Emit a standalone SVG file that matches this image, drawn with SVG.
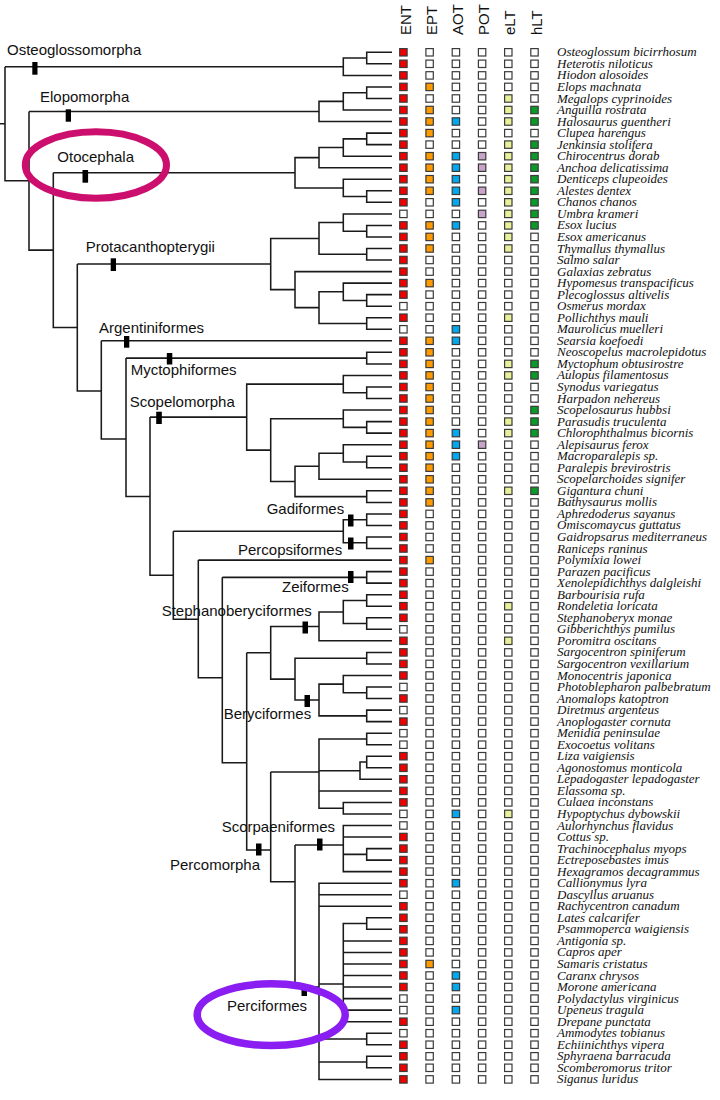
<svg xmlns="http://www.w3.org/2000/svg" xmlns:xlink="http://www.w3.org/1999/xlink" width="720" height="1100" viewBox="0 0 720 1100">
<style>
.cn path{fill:none;stroke:#1a1a1a;stroke-width:1.55}
.tx{font-family:"Liberation Serif","Times New Roman",serif;font-style:italic;font-size:13px;fill:#111}
.lb{font-family:"Liberation Sans",Arial,sans-serif;font-size:15px;fill:#111}
.hd{font-family:"Liberation Sans",Arial,sans-serif;font-size:15px;fill:#111}
.mk{fill:#000}
use{stroke:#3a3a3a;stroke-width:1.2}
.w{fill:#fff}.r{fill:#ee0000}.o{fill:#ff9a00}.b{fill:#00a8f0}.m{fill:#c9a3c9}.y{fill:#e8f09a}.g{fill:#0a9a2a}
.ov{fill:none}
</style>
<defs><rect id="s" x="0" y="-3.7" width="7.4" height="7.4"/></defs>
<rect width="720" height="1100" fill="#fff"/>
<g id="headers" class="hd">
<text transform="translate(410.5 35) rotate(-90)">ENT</text>
<text transform="translate(436.7 35) rotate(-90)">EPT</text>
<text transform="translate(463 35) rotate(-90)">AOT</text>
<text transform="translate(489.2 35) rotate(-90)">POT</text>
<text transform="translate(515.4 35) rotate(-90)">eLT</text>
<text transform="translate(541.6 35) rotate(-90)">hLT</text>
</g>
<g id="connectors" class="cn">
<path d="M0 123.7H5M5 66.7H343.3M5 66.7V180.75H29"/>
<path d="M29 111.4H319M29 111.4V250.1H53.3"/>
<path d="M53.3 172.75H295M53.3 172.75V327.5H77.3"/>
<path d="M77.3 264H270.7M77.3 264V391H101.3"/>
<path d="M101.3 340.8H392M101.3 340.8V439H126"/>
<path d="M126 358.1H366.7M126 358.1V496.4H150"/>
<path d="M150 417.1H246.7M150 417.1V575.2H173.3"/>
<path d="M173.3 531.2H343.3M173.3 531.2V619.2H198.3"/>
<path d="M198.3 560.1H392M198.3 560.1V677.7H222.3"/>
<path d="M222.3 577.35H366.7M222.3 577.35V762.7H246.7"/>
<path d="M246.7 652.75H270.7M246.7 652.75V850H270.7"/>
<path d="M270.7 772H319M270.7 772V881.7H295"/>
<path d="M295 845H343.3M295 845V987H319"/>
<path d="M392 52.3H366.7V63.8H392M366.7 58.05H343.3V75.4H392"/>
<path d="M392 86.9H366.7V98.5H392M366.7 92.7H343.3V110H392M343.3 101.35H319V121.5H392"/>
<path d="M392 133.1H366.7V144.6H392M366.7 138.85H343.3V156.2H392M343.3 147.5H319V167.7H392M392 190.8H366.7V202.3H392M392 179.2H343.3V196.55H366.7M319 157.6H295V187.9H343.3"/>
<path d="M392 225.4H366.7V236.9H392M392 213.9H343.3V231.15H366.7M392 248.5H366.7V260H392M343.3 222.5H319V254.25H366.7M392 294.6H366.7V306.2H392M392 283.1H343.3V300.4H366.7M392 317.7H366.7V329.3H392M343.3 291.75H319V323.5H366.7M392 271.6H295V307.6H319M319 238.4H270.7V289.6H295"/>
<path d="M392 352.3H366.7V363.9H392"/>
<path d="M392 387H366.7V398.5H392M392 375.4H343.3V392.75H366.7M392 421.6H366.7V433.1H392M392 410H343.3V427.35H366.7M392 456.2H366.7V467.7H392M392 444.7H343.3V461.95H366.7M343.3 453.3H319V479.3H392M392 490.8H366.7V502.4H392M319 466.3H295V496.6H366.7M343.3 418.7H270.7V481.45H295M343.3 384.1H246.7V450.1H270.7"/>
<path d="M392 513.9H366.7V525.4H392M392 537H366.7V548.5H392M366.7 519.65H343.3V542.75H366.7"/>
<path d="M392 571.6H366.7V583.1H392"/>
<path d="M392 594.7H366.7V606.2H392M392 617.8H366.7V629.3H392M366.7 600.45H343.3V623.55H366.7M343.3 612H319V640.8H392"/>
<path d="M392 652.4H366.7V663.9H392M392 687H366.7V698.5H392M392 675.5H343.3V692.75H366.7M392 710.1H366.7V721.6H392M343.3 684.1H319V715.85H366.7M366.7 658.15H295V700H319M319 626.4H270.7V679.1H295"/>
<path d="M392 733.2H366.7V744.7H392M392 756.2H366.7V767.8H392M366.7 762H360V779.3H392M392 802.4H343.3V813.9H392M366.7 738.95H319V808.15H343.3M319 770.65H360M319 790.9H392"/>
<path d="M392 848.6H366.7V860.1H392M392 825.5H343.3V871.6H392M343.3 837H392M343.3 854.35H366.7"/>
<path d="M392 917.8H366.7V929.3H392M366.7 923.55H343.3V1021.7H392M343.3 940.9H392M343.3 952.4H392M343.3 964H392M343.3 975.5H392M343.3 987H392M343.3 998.6H392M343.3 1010.1H392M392 1033.2H366.7V1044.7H392M392 1056.3H366.7V1067.8H392M392 883.2H319V1079.4H392M319 894.7H392M319 906.3H392M319 984H343.3M319 1038.95H366.7M319 1062.05H366.7"/>
</g>
<g id="clades">
<g id="c-osteo"><rect class="mk" x="32.3" y="62" width="5.2" height="12.7"/><text class="lb" x="7" y="55">Osteoglossomorpha</text></g>
<g id="c-elopo"><rect class="mk" x="65.7" y="109.3" width="5.3" height="12.4"/><text class="lb" x="40" y="101.7">Elopomorpha</text></g>
<g id="c-oto"><rect class="mk" x="82.5" y="170" width="5.6" height="12.7"/><text class="lb" x="57.3" y="162.3">Otocephala</text></g>
<g id="c-prot"><rect class="mk" x="110.7" y="258.3" width="5.3" height="12.7"/><text class="lb" x="85.7" y="251.7">Protacanthopterygii</text></g>
<g id="c-arg"><rect class="mk" x="124" y="336" width="5.3" height="11.7"/><text class="lb" x="99" y="333.3">Argentiniformes</text></g>
<g id="c-myct"><rect class="mk" x="166.8" y="353" width="5.5" height="11.5"/><text class="lb" x="130.7" y="375">Myctophiformes</text></g>
<g id="c-scop"><rect class="mk" x="156.2" y="411.7" width="5.6" height="12.3"/><text class="lb" x="129.7" y="406.7">Scopelomorpha</text></g>
<g id="c-gadi"><rect class="mk" x="348" y="514.5" width="5.5" height="12"/><text class="lb" x="266.7" y="514.3">Gadiformes</text></g>
<g id="c-perc"><rect class="mk" x="348" y="537.5" width="5.5" height="12"/><text class="lb" x="238" y="555">Percopsiformes</text></g>
<g id="c-zei"><rect class="mk" x="348" y="571" width="5.5" height="12"/><text class="lb" x="282" y="592.3">Zeiformes</text></g>
<g id="c-steph"><rect class="mk" x="302.5" y="621.5" width="5.5" height="12"/><text class="lb" x="161.7" y="616">Stephanoberyciformes</text></g>
<g id="c-bery"><rect class="mk" x="304.5" y="695" width="5.5" height="12"/><text class="lb" x="223.7" y="719.3">Beryciformes</text></g>
<g id="c-scorp"><rect class="mk" x="317" y="838.5" width="5.5" height="12"/><text class="lb" x="221.7" y="831.7">Scorpaeniformes</text></g>
<g id="c-percom"><rect class="mk" x="256" y="843.5" width="5.5" height="12"/><text class="lb" x="170" y="870">Percomorpha</text></g>
<g id="c-percif"><rect class="mk" x="301.5" y="984" width="5.5" height="12"/><text class="lb" x="227" y="1010.7">Perciformes</text></g>
</g>
<g id="taxa" class="tx">
<g id="t1" transform="translate(0 52.3)"><text x="557" y="4">Osteoglossum bicirrhosum</text><use href="#s" x="399.7" class="r"/><use href="#s" x="425.9" class="w"/><use href="#s" x="452.2" class="w"/><use href="#s" x="478.4" class="w"/><use href="#s" x="504.6" class="w"/><use href="#s" x="530.8" class="w"/></g>
<g id="t2" transform="translate(0 63.8)"><text x="557" y="4">Heterotis niloticus</text><use href="#s" x="399.7" class="r"/><use href="#s" x="425.9" class="w"/><use href="#s" x="452.2" class="w"/><use href="#s" x="478.4" class="w"/><use href="#s" x="504.6" class="w"/><use href="#s" x="530.8" class="w"/></g>
<g id="t3" transform="translate(0 75.4)"><text x="557" y="4">Hiodon alosoides</text><use href="#s" x="399.7" class="r"/><use href="#s" x="425.9" class="w"/><use href="#s" x="452.2" class="w"/><use href="#s" x="478.4" class="w"/><use href="#s" x="504.6" class="w"/><use href="#s" x="530.8" class="w"/></g>
<g id="t4" transform="translate(0 86.9)"><text x="557" y="4">Elops machnata</text><use href="#s" x="399.7" class="r"/><use href="#s" x="425.9" class="o"/><use href="#s" x="452.2" class="w"/><use href="#s" x="478.4" class="w"/><use href="#s" x="504.6" class="w"/><use href="#s" x="530.8" class="w"/></g>
<g id="t5" transform="translate(0 98.5)"><text x="557" y="4">Megalops cyprinoides</text><use href="#s" x="399.7" class="r"/><use href="#s" x="425.9" class="w"/><use href="#s" x="452.2" class="w"/><use href="#s" x="478.4" class="w"/><use href="#s" x="504.6" class="y"/><use href="#s" x="530.8" class="w"/></g>
<g id="t6" transform="translate(0 110)"><text x="557" y="4">Anguilla rostrata</text><use href="#s" x="399.7" class="r"/><use href="#s" x="425.9" class="o"/><use href="#s" x="452.2" class="w"/><use href="#s" x="478.4" class="w"/><use href="#s" x="504.6" class="y"/><use href="#s" x="530.8" class="g"/></g>
<g id="t7" transform="translate(0 121.5)"><text x="557" y="4">Halosaurus guentheri</text><use href="#s" x="399.7" class="r"/><use href="#s" x="425.9" class="o"/><use href="#s" x="452.2" class="b"/><use href="#s" x="478.4" class="w"/><use href="#s" x="504.6" class="y"/><use href="#s" x="530.8" class="g"/></g>
<g id="t8" transform="translate(0 133.1)"><text x="557" y="4">Clupea harengus</text><use href="#s" x="399.7" class="r"/><use href="#s" x="425.9" class="o"/><use href="#s" x="452.2" class="w"/><use href="#s" x="478.4" class="w"/><use href="#s" x="504.6" class="w"/><use href="#s" x="530.8" class="w"/></g>
<g id="t9" transform="translate(0 144.6)"><text x="557" y="4">Jenkinsia stolifera</text><use href="#s" x="399.7" class="r"/><use href="#s" x="425.9" class="w"/><use href="#s" x="452.2" class="w"/><use href="#s" x="478.4" class="w"/><use href="#s" x="504.6" class="y"/><use href="#s" x="530.8" class="g"/></g>
<g id="t10" transform="translate(0 156.2)"><text x="557" y="4">Chirocentrus dorab</text><use href="#s" x="399.7" class="r"/><use href="#s" x="425.9" class="o"/><use href="#s" x="452.2" class="b"/><use href="#s" x="478.4" class="m"/><use href="#s" x="504.6" class="y"/><use href="#s" x="530.8" class="g"/></g>
<g id="t11" transform="translate(0 167.7)"><text x="557" y="4">Anchoa delicatissima</text><use href="#s" x="399.7" class="r"/><use href="#s" x="425.9" class="o"/><use href="#s" x="452.2" class="b"/><use href="#s" x="478.4" class="m"/><use href="#s" x="504.6" class="y"/><use href="#s" x="530.8" class="g"/></g>
<g id="t12" transform="translate(0 179.2)"><text x="557" y="4">Denticeps clupeoides</text><use href="#s" x="399.7" class="r"/><use href="#s" x="425.9" class="o"/><use href="#s" x="452.2" class="b"/><use href="#s" x="478.4" class="w"/><use href="#s" x="504.6" class="y"/><use href="#s" x="530.8" class="g"/></g>
<g id="t13" transform="translate(0 190.8)"><text x="557" y="4">Alestes dentex</text><use href="#s" x="399.7" class="r"/><use href="#s" x="425.9" class="o"/><use href="#s" x="452.2" class="b"/><use href="#s" x="478.4" class="m"/><use href="#s" x="504.6" class="y"/><use href="#s" x="530.8" class="g"/></g>
<g id="t14" transform="translate(0 202.3)"><text x="557" y="4">Chanos chanos</text><use href="#s" x="399.7" class="r"/><use href="#s" x="425.9" class="w"/><use href="#s" x="452.2" class="b"/><use href="#s" x="478.4" class="w"/><use href="#s" x="504.6" class="y"/><use href="#s" x="530.8" class="g"/></g>
<g id="t15" transform="translate(0 213.9)"><text x="557" y="4">Umbra krameri</text><use href="#s" x="399.7" class="w"/><use href="#s" x="425.9" class="w"/><use href="#s" x="452.2" class="w"/><use href="#s" x="478.4" class="m"/><use href="#s" x="504.6" class="y"/><use href="#s" x="530.8" class="g"/></g>
<g id="t16" transform="translate(0 225.4)"><text x="557" y="4">Esox lucius</text><use href="#s" x="399.7" class="r"/><use href="#s" x="425.9" class="o"/><use href="#s" x="452.2" class="b"/><use href="#s" x="478.4" class="w"/><use href="#s" x="504.6" class="y"/><use href="#s" x="530.8" class="g"/></g>
<g id="t17" transform="translate(0 236.9)"><text x="557" y="4">Esox americanus</text><use href="#s" x="399.7" class="r"/><use href="#s" x="425.9" class="o"/><use href="#s" x="452.2" class="w"/><use href="#s" x="478.4" class="w"/><use href="#s" x="504.6" class="y"/><use href="#s" x="530.8" class="w"/></g>
<g id="t18" transform="translate(0 248.5)"><text x="557" y="4">Thymallus thymallus</text><use href="#s" x="399.7" class="r"/><use href="#s" x="425.9" class="o"/><use href="#s" x="452.2" class="w"/><use href="#s" x="478.4" class="w"/><use href="#s" x="504.6" class="y"/><use href="#s" x="530.8" class="w"/></g>
<g id="t19" transform="translate(0 260)"><text x="557" y="4">Salmo salar</text><use href="#s" x="399.7" class="r"/><use href="#s" x="425.9" class="w"/><use href="#s" x="452.2" class="w"/><use href="#s" x="478.4" class="w"/><use href="#s" x="504.6" class="w"/><use href="#s" x="530.8" class="w"/></g>
<g id="t20" transform="translate(0 271.6)"><text x="557" y="4">Galaxias zebratus</text><use href="#s" x="399.7" class="r"/><use href="#s" x="425.9" class="w"/><use href="#s" x="452.2" class="w"/><use href="#s" x="478.4" class="w"/><use href="#s" x="504.6" class="w"/><use href="#s" x="530.8" class="w"/></g>
<g id="t21" transform="translate(0 283.1)"><text x="557" y="4">Hypomesus transpacificus</text><use href="#s" x="399.7" class="r"/><use href="#s" x="425.9" class="o"/><use href="#s" x="452.2" class="w"/><use href="#s" x="478.4" class="w"/><use href="#s" x="504.6" class="w"/><use href="#s" x="530.8" class="w"/></g>
<g id="t22" transform="translate(0 294.6)"><text x="557" y="4">Plecoglossus altivelis</text><use href="#s" x="399.7" class="r"/><use href="#s" x="425.9" class="w"/><use href="#s" x="452.2" class="w"/><use href="#s" x="478.4" class="w"/><use href="#s" x="504.6" class="w"/><use href="#s" x="530.8" class="w"/></g>
<g id="t23" transform="translate(0 306.2)"><text x="557" y="4">Osmerus mordax</text><use href="#s" x="399.7" class="w"/><use href="#s" x="425.9" class="w"/><use href="#s" x="452.2" class="w"/><use href="#s" x="478.4" class="w"/><use href="#s" x="504.6" class="w"/><use href="#s" x="530.8" class="w"/></g>
<g id="t24" transform="translate(0 317.7)"><text x="557" y="4">Pollichthys mauli</text><use href="#s" x="399.7" class="r"/><use href="#s" x="425.9" class="w"/><use href="#s" x="452.2" class="w"/><use href="#s" x="478.4" class="w"/><use href="#s" x="504.6" class="y"/><use href="#s" x="530.8" class="w"/></g>
<g id="t25" transform="translate(0 329.3)"><text x="557" y="4">Maurolicus muelleri</text><use href="#s" x="399.7" class="w"/><use href="#s" x="425.9" class="w"/><use href="#s" x="452.2" class="b"/><use href="#s" x="478.4" class="w"/><use href="#s" x="504.6" class="w"/><use href="#s" x="530.8" class="w"/></g>
<g id="t26" transform="translate(0 340.8)"><text x="557" y="4">Searsia koefoedi</text><use href="#s" x="399.7" class="r"/><use href="#s" x="425.9" class="o"/><use href="#s" x="452.2" class="b"/><use href="#s" x="478.4" class="w"/><use href="#s" x="504.6" class="w"/><use href="#s" x="530.8" class="w"/></g>
<g id="t27" transform="translate(0 352.3)"><text x="557" y="4">Neoscopelus macrolepidotus</text><use href="#s" x="399.7" class="r"/><use href="#s" x="425.9" class="o"/><use href="#s" x="452.2" class="w"/><use href="#s" x="478.4" class="w"/><use href="#s" x="504.6" class="w"/><use href="#s" x="530.8" class="w"/></g>
<g id="t28" transform="translate(0 363.9)"><text x="557" y="4">Myctophum obtusirostre</text><use href="#s" x="399.7" class="r"/><use href="#s" x="425.9" class="o"/><use href="#s" x="452.2" class="w"/><use href="#s" x="478.4" class="w"/><use href="#s" x="504.6" class="y"/><use href="#s" x="530.8" class="g"/></g>
<g id="t29" transform="translate(0 375.4)"><text x="557" y="4">Aulopus filamentosus</text><use href="#s" x="399.7" class="r"/><use href="#s" x="425.9" class="o"/><use href="#s" x="452.2" class="w"/><use href="#s" x="478.4" class="w"/><use href="#s" x="504.6" class="y"/><use href="#s" x="530.8" class="g"/></g>
<g id="t30" transform="translate(0 387)"><text x="557" y="4">Synodus variegatus</text><use href="#s" x="399.7" class="r"/><use href="#s" x="425.9" class="o"/><use href="#s" x="452.2" class="w"/><use href="#s" x="478.4" class="w"/><use href="#s" x="504.6" class="w"/><use href="#s" x="530.8" class="w"/></g>
<g id="t31" transform="translate(0 398.5)"><text x="557" y="4">Harpadon nehereus</text><use href="#s" x="399.7" class="r"/><use href="#s" x="425.9" class="o"/><use href="#s" x="452.2" class="w"/><use href="#s" x="478.4" class="w"/><use href="#s" x="504.6" class="w"/><use href="#s" x="530.8" class="w"/></g>
<g id="t32" transform="translate(0 410)"><text x="557" y="4">Scopelosaurus hubbsi</text><use href="#s" x="399.7" class="r"/><use href="#s" x="425.9" class="o"/><use href="#s" x="452.2" class="w"/><use href="#s" x="478.4" class="w"/><use href="#s" x="504.6" class="w"/><use href="#s" x="530.8" class="g"/></g>
<g id="t33" transform="translate(0 421.6)"><text x="557" y="4">Parasudis truculenta</text><use href="#s" x="399.7" class="r"/><use href="#s" x="425.9" class="o"/><use href="#s" x="452.2" class="w"/><use href="#s" x="478.4" class="w"/><use href="#s" x="504.6" class="y"/><use href="#s" x="530.8" class="g"/></g>
<g id="t34" transform="translate(0 433.1)"><text x="557" y="4">Chlorophthalmus bicornis</text><use href="#s" x="399.7" class="r"/><use href="#s" x="425.9" class="o"/><use href="#s" x="452.2" class="b"/><use href="#s" x="478.4" class="w"/><use href="#s" x="504.6" class="y"/><use href="#s" x="530.8" class="g"/></g>
<g id="t35" transform="translate(0 444.7)"><text x="557" y="4">Alepisaurus ferox</text><use href="#s" x="399.7" class="r"/><use href="#s" x="425.9" class="o"/><use href="#s" x="452.2" class="b"/><use href="#s" x="478.4" class="m"/><use href="#s" x="504.6" class="w"/><use href="#s" x="530.8" class="w"/></g>
<g id="t36" transform="translate(0 456.2)"><text x="557" y="4">Macroparalepis sp.</text><use href="#s" x="399.7" class="r"/><use href="#s" x="425.9" class="o"/><use href="#s" x="452.2" class="b"/><use href="#s" x="478.4" class="w"/><use href="#s" x="504.6" class="w"/><use href="#s" x="530.8" class="w"/></g>
<g id="t37" transform="translate(0 467.7)"><text x="557" y="4">Paralepis brevirostris</text><use href="#s" x="399.7" class="r"/><use href="#s" x="425.9" class="o"/><use href="#s" x="452.2" class="w"/><use href="#s" x="478.4" class="w"/><use href="#s" x="504.6" class="w"/><use href="#s" x="530.8" class="w"/></g>
<g id="t38" transform="translate(0 479.3)"><text x="557" y="4">Scopelarchoides signifer</text><use href="#s" x="399.7" class="r"/><use href="#s" x="425.9" class="o"/><use href="#s" x="452.2" class="w"/><use href="#s" x="478.4" class="w"/><use href="#s" x="504.6" class="w"/><use href="#s" x="530.8" class="w"/></g>
<g id="t39" transform="translate(0 490.8)"><text x="557" y="4">Gigantura chuni</text><use href="#s" x="399.7" class="r"/><use href="#s" x="425.9" class="o"/><use href="#s" x="452.2" class="w"/><use href="#s" x="478.4" class="w"/><use href="#s" x="504.6" class="y"/><use href="#s" x="530.8" class="g"/></g>
<g id="t40" transform="translate(0 502.4)"><text x="557" y="4">Bathysaurus mollis</text><use href="#s" x="399.7" class="r"/><use href="#s" x="425.9" class="o"/><use href="#s" x="452.2" class="w"/><use href="#s" x="478.4" class="w"/><use href="#s" x="504.6" class="w"/><use href="#s" x="530.8" class="w"/></g>
<g id="t41" transform="translate(0 513.9)"><text x="557" y="4">Aphredoderus sayanus</text><use href="#s" x="399.7" class="r"/><use href="#s" x="425.9" class="w"/><use href="#s" x="452.2" class="w"/><use href="#s" x="478.4" class="w"/><use href="#s" x="504.6" class="w"/><use href="#s" x="530.8" class="w"/></g>
<g id="t42" transform="translate(0 525.4)"><text x="557" y="4">Omiscomaycus guttatus</text><use href="#s" x="399.7" class="r"/><use href="#s" x="425.9" class="w"/><use href="#s" x="452.2" class="w"/><use href="#s" x="478.4" class="w"/><use href="#s" x="504.6" class="w"/><use href="#s" x="530.8" class="w"/></g>
<g id="t43" transform="translate(0 537)"><text x="557" y="4">Gaidropsarus mediterraneus</text><use href="#s" x="399.7" class="r"/><use href="#s" x="425.9" class="w"/><use href="#s" x="452.2" class="w"/><use href="#s" x="478.4" class="w"/><use href="#s" x="504.6" class="w"/><use href="#s" x="530.8" class="w"/></g>
<g id="t44" transform="translate(0 548.5)"><text x="557" y="4">Raniceps raninus</text><use href="#s" x="399.7" class="r"/><use href="#s" x="425.9" class="w"/><use href="#s" x="452.2" class="w"/><use href="#s" x="478.4" class="w"/><use href="#s" x="504.6" class="w"/><use href="#s" x="530.8" class="w"/></g>
<g id="t45" transform="translate(0 560.1)"><text x="557" y="4">Polymixia lowei</text><use href="#s" x="399.7" class="r"/><use href="#s" x="425.9" class="o"/><use href="#s" x="452.2" class="w"/><use href="#s" x="478.4" class="w"/><use href="#s" x="504.6" class="w"/><use href="#s" x="530.8" class="w"/></g>
<g id="t46" transform="translate(0 571.6)"><text x="557" y="4">Parazen pacificus</text><use href="#s" x="399.7" class="r"/><use href="#s" x="425.9" class="w"/><use href="#s" x="452.2" class="w"/><use href="#s" x="478.4" class="w"/><use href="#s" x="504.6" class="w"/><use href="#s" x="530.8" class="w"/></g>
<g id="t47" transform="translate(0 583.1)"><text x="557" y="4">Xenolepidichthys dalgleishi</text><use href="#s" x="399.7" class="r"/><use href="#s" x="425.9" class="w"/><use href="#s" x="452.2" class="w"/><use href="#s" x="478.4" class="w"/><use href="#s" x="504.6" class="w"/><use href="#s" x="530.8" class="w"/></g>
<g id="t48" transform="translate(0 594.7)"><text x="557" y="4">Barbourisia rufa</text><use href="#s" x="399.7" class="r"/><use href="#s" x="425.9" class="w"/><use href="#s" x="452.2" class="w"/><use href="#s" x="478.4" class="w"/><use href="#s" x="504.6" class="w"/><use href="#s" x="530.8" class="w"/></g>
<g id="t49" transform="translate(0 606.2)"><text x="557" y="4">Rondeletia loricata</text><use href="#s" x="399.7" class="r"/><use href="#s" x="425.9" class="w"/><use href="#s" x="452.2" class="w"/><use href="#s" x="478.4" class="w"/><use href="#s" x="504.6" class="y"/><use href="#s" x="530.8" class="w"/></g>
<g id="t50" transform="translate(0 617.8)"><text x="557" y="4">Stephanoberyx monae</text><use href="#s" x="399.7" class="r"/><use href="#s" x="425.9" class="w"/><use href="#s" x="452.2" class="w"/><use href="#s" x="478.4" class="w"/><use href="#s" x="504.6" class="w"/><use href="#s" x="530.8" class="w"/></g>
<g id="t51" transform="translate(0 629.3)"><text x="557" y="4">Gibberichthys pumilus</text><use href="#s" x="399.7" class="w"/><use href="#s" x="425.9" class="w"/><use href="#s" x="452.2" class="w"/><use href="#s" x="478.4" class="w"/><use href="#s" x="504.6" class="w"/><use href="#s" x="530.8" class="w"/></g>
<g id="t52" transform="translate(0 640.8)"><text x="557" y="4">Poromitra oscitans</text><use href="#s" x="399.7" class="r"/><use href="#s" x="425.9" class="w"/><use href="#s" x="452.2" class="w"/><use href="#s" x="478.4" class="w"/><use href="#s" x="504.6" class="y"/><use href="#s" x="530.8" class="w"/></g>
<g id="t53" transform="translate(0 652.4)"><text x="557" y="4">Sargocentron spiniferum</text><use href="#s" x="399.7" class="r"/><use href="#s" x="425.9" class="w"/><use href="#s" x="452.2" class="w"/><use href="#s" x="478.4" class="w"/><use href="#s" x="504.6" class="w"/><use href="#s" x="530.8" class="w"/></g>
<g id="t54" transform="translate(0 663.9)"><text x="557" y="4">Sargocentron vexillarium</text><use href="#s" x="399.7" class="r"/><use href="#s" x="425.9" class="w"/><use href="#s" x="452.2" class="w"/><use href="#s" x="478.4" class="w"/><use href="#s" x="504.6" class="w"/><use href="#s" x="530.8" class="w"/></g>
<g id="t55" transform="translate(0 675.5)"><text x="557" y="4">Monocentris japonica</text><use href="#s" x="399.7" class="r"/><use href="#s" x="425.9" class="w"/><use href="#s" x="452.2" class="w"/><use href="#s" x="478.4" class="w"/><use href="#s" x="504.6" class="w"/><use href="#s" x="530.8" class="w"/></g>
<g id="t56" transform="translate(0 687)"><text x="557" y="4">Photoblepharon palbebratum</text><use href="#s" x="399.7" class="w"/><use href="#s" x="425.9" class="w"/><use href="#s" x="452.2" class="w"/><use href="#s" x="478.4" class="w"/><use href="#s" x="504.6" class="w"/><use href="#s" x="530.8" class="w"/></g>
<g id="t57" transform="translate(0 698.5)"><text x="557" y="4">Anomalops katoptron</text><use href="#s" x="399.7" class="r"/><use href="#s" x="425.9" class="w"/><use href="#s" x="452.2" class="w"/><use href="#s" x="478.4" class="w"/><use href="#s" x="504.6" class="w"/><use href="#s" x="530.8" class="w"/></g>
<g id="t58" transform="translate(0 710.1)"><text x="557" y="4">Diretmus argenteus</text><use href="#s" x="399.7" class="w"/><use href="#s" x="425.9" class="w"/><use href="#s" x="452.2" class="w"/><use href="#s" x="478.4" class="w"/><use href="#s" x="504.6" class="w"/><use href="#s" x="530.8" class="w"/></g>
<g id="t59" transform="translate(0 721.6)"><text x="557" y="4">Anoplogaster cornuta</text><use href="#s" x="399.7" class="r"/><use href="#s" x="425.9" class="w"/><use href="#s" x="452.2" class="w"/><use href="#s" x="478.4" class="w"/><use href="#s" x="504.6" class="w"/><use href="#s" x="530.8" class="w"/></g>
<g id="t60" transform="translate(0 733.2)"><text x="557" y="4">Menidia peninsulae</text><use href="#s" x="399.7" class="w"/><use href="#s" x="425.9" class="w"/><use href="#s" x="452.2" class="w"/><use href="#s" x="478.4" class="w"/><use href="#s" x="504.6" class="w"/><use href="#s" x="530.8" class="w"/></g>
<g id="t61" transform="translate(0 744.7)"><text x="557" y="4">Exocoetus volitans</text><use href="#s" x="399.7" class="w"/><use href="#s" x="425.9" class="w"/><use href="#s" x="452.2" class="w"/><use href="#s" x="478.4" class="w"/><use href="#s" x="504.6" class="w"/><use href="#s" x="530.8" class="w"/></g>
<g id="t62" transform="translate(0 756.2)"><text x="557" y="4">Liza vaigiensis</text><use href="#s" x="399.7" class="r"/><use href="#s" x="425.9" class="w"/><use href="#s" x="452.2" class="w"/><use href="#s" x="478.4" class="w"/><use href="#s" x="504.6" class="w"/><use href="#s" x="530.8" class="w"/></g>
<g id="t63" transform="translate(0 767.8)"><text x="557" y="4">Agonostomus monticola</text><use href="#s" x="399.7" class="r"/><use href="#s" x="425.9" class="w"/><use href="#s" x="452.2" class="w"/><use href="#s" x="478.4" class="w"/><use href="#s" x="504.6" class="w"/><use href="#s" x="530.8" class="w"/></g>
<g id="t64" transform="translate(0 779.3)"><text x="557" y="4">Lepadogaster lepadogaster</text><use href="#s" x="399.7" class="r"/><use href="#s" x="425.9" class="w"/><use href="#s" x="452.2" class="w"/><use href="#s" x="478.4" class="w"/><use href="#s" x="504.6" class="w"/><use href="#s" x="530.8" class="w"/></g>
<g id="t65" transform="translate(0 790.9)"><text x="557" y="4">Elassoma sp.</text><use href="#s" x="399.7" class="r"/><use href="#s" x="425.9" class="w"/><use href="#s" x="452.2" class="w"/><use href="#s" x="478.4" class="w"/><use href="#s" x="504.6" class="w"/><use href="#s" x="530.8" class="w"/></g>
<g id="t66" transform="translate(0 802.4)"><text x="557" y="4">Culaea inconstans</text><use href="#s" x="399.7" class="r"/><use href="#s" x="425.9" class="w"/><use href="#s" x="452.2" class="w"/><use href="#s" x="478.4" class="w"/><use href="#s" x="504.6" class="w"/><use href="#s" x="530.8" class="w"/></g>
<g id="t67" transform="translate(0 813.9)"><text x="557" y="4">Hypoptychus dybowskii</text><use href="#s" x="399.7" class="w"/><use href="#s" x="425.9" class="w"/><use href="#s" x="452.2" class="b"/><use href="#s" x="478.4" class="w"/><use href="#s" x="504.6" class="y"/><use href="#s" x="530.8" class="w"/></g>
<g id="t68" transform="translate(0 825.5)"><text x="557" y="4">Aulorhynchus flavidus</text><use href="#s" x="399.7" class="w"/><use href="#s" x="425.9" class="w"/><use href="#s" x="452.2" class="w"/><use href="#s" x="478.4" class="w"/><use href="#s" x="504.6" class="w"/><use href="#s" x="530.8" class="w"/></g>
<g id="t69" transform="translate(0 837)"><text x="557" y="4">Cottus sp.</text><use href="#s" x="399.7" class="r"/><use href="#s" x="425.9" class="w"/><use href="#s" x="452.2" class="w"/><use href="#s" x="478.4" class="w"/><use href="#s" x="504.6" class="w"/><use href="#s" x="530.8" class="w"/></g>
<g id="t70" transform="translate(0 848.6)"><text x="557" y="4">Trachinocephalus myops</text><use href="#s" x="399.7" class="r"/><use href="#s" x="425.9" class="w"/><use href="#s" x="452.2" class="w"/><use href="#s" x="478.4" class="w"/><use href="#s" x="504.6" class="w"/><use href="#s" x="530.8" class="w"/></g>
<g id="t71" transform="translate(0 860.1)"><text x="557" y="4">Ectreposebastes imus</text><use href="#s" x="399.7" class="r"/><use href="#s" x="425.9" class="w"/><use href="#s" x="452.2" class="w"/><use href="#s" x="478.4" class="w"/><use href="#s" x="504.6" class="w"/><use href="#s" x="530.8" class="w"/></g>
<g id="t72" transform="translate(0 871.6)"><text x="557" y="4">Hexagramos decagrammus</text><use href="#s" x="399.7" class="r"/><use href="#s" x="425.9" class="w"/><use href="#s" x="452.2" class="w"/><use href="#s" x="478.4" class="w"/><use href="#s" x="504.6" class="w"/><use href="#s" x="530.8" class="w"/></g>
<g id="t73" transform="translate(0 883.2)"><text x="557" y="4">Callionymus lyra</text><use href="#s" x="399.7" class="r"/><use href="#s" x="425.9" class="w"/><use href="#s" x="452.2" class="b"/><use href="#s" x="478.4" class="w"/><use href="#s" x="504.6" class="w"/><use href="#s" x="530.8" class="w"/></g>
<g id="t74" transform="translate(0 894.7)"><text x="557" y="4">Dascyllus aruanus</text><use href="#s" x="399.7" class="w"/><use href="#s" x="425.9" class="w"/><use href="#s" x="452.2" class="w"/><use href="#s" x="478.4" class="w"/><use href="#s" x="504.6" class="w"/><use href="#s" x="530.8" class="w"/></g>
<g id="t75" transform="translate(0 906.3)"><text x="557" y="4">Rachycentron canadum</text><use href="#s" x="399.7" class="r"/><use href="#s" x="425.9" class="w"/><use href="#s" x="452.2" class="w"/><use href="#s" x="478.4" class="w"/><use href="#s" x="504.6" class="w"/><use href="#s" x="530.8" class="w"/></g>
<g id="t76" transform="translate(0 917.8)"><text x="557" y="4">Lates calcarifer</text><use href="#s" x="399.7" class="r"/><use href="#s" x="425.9" class="w"/><use href="#s" x="452.2" class="w"/><use href="#s" x="478.4" class="w"/><use href="#s" x="504.6" class="w"/><use href="#s" x="530.8" class="w"/></g>
<g id="t77" transform="translate(0 929.3)"><text x="557" y="4">Psammoperca waigiensis</text><use href="#s" x="399.7" class="r"/><use href="#s" x="425.9" class="w"/><use href="#s" x="452.2" class="w"/><use href="#s" x="478.4" class="w"/><use href="#s" x="504.6" class="w"/><use href="#s" x="530.8" class="w"/></g>
<g id="t78" transform="translate(0 940.9)"><text x="557" y="4">Antigonia sp.</text><use href="#s" x="399.7" class="r"/><use href="#s" x="425.9" class="w"/><use href="#s" x="452.2" class="w"/><use href="#s" x="478.4" class="w"/><use href="#s" x="504.6" class="w"/><use href="#s" x="530.8" class="w"/></g>
<g id="t79" transform="translate(0 952.4)"><text x="557" y="4">Capros aper</text><use href="#s" x="399.7" class="r"/><use href="#s" x="425.9" class="w"/><use href="#s" x="452.2" class="w"/><use href="#s" x="478.4" class="w"/><use href="#s" x="504.6" class="w"/><use href="#s" x="530.8" class="w"/></g>
<g id="t80" transform="translate(0 964)"><text x="557" y="4">Samaris cristatus</text><use href="#s" x="399.7" class="r"/><use href="#s" x="425.9" class="o"/><use href="#s" x="452.2" class="w"/><use href="#s" x="478.4" class="w"/><use href="#s" x="504.6" class="w"/><use href="#s" x="530.8" class="w"/></g>
<g id="t81" transform="translate(0 975.5)"><text x="557" y="4">Caranx chrysos</text><use href="#s" x="399.7" class="r"/><use href="#s" x="425.9" class="w"/><use href="#s" x="452.2" class="b"/><use href="#s" x="478.4" class="w"/><use href="#s" x="504.6" class="w"/><use href="#s" x="530.8" class="w"/></g>
<g id="t82" transform="translate(0 987)"><text x="557" y="4">Morone americana</text><use href="#s" x="399.7" class="r"/><use href="#s" x="425.9" class="w"/><use href="#s" x="452.2" class="b"/><use href="#s" x="478.4" class="w"/><use href="#s" x="504.6" class="w"/><use href="#s" x="530.8" class="w"/></g>
<g id="t83" transform="translate(0 998.6)"><text x="557" y="4">Polydactylus virginicus</text><use href="#s" x="399.7" class="w"/><use href="#s" x="425.9" class="w"/><use href="#s" x="452.2" class="w"/><use href="#s" x="478.4" class="w"/><use href="#s" x="504.6" class="w"/><use href="#s" x="530.8" class="w"/></g>
<g id="t84" transform="translate(0 1010.1)"><text x="557" y="4">Upeneus tragula</text><use href="#s" x="399.7" class="w"/><use href="#s" x="425.9" class="w"/><use href="#s" x="452.2" class="b"/><use href="#s" x="478.4" class="w"/><use href="#s" x="504.6" class="w"/><use href="#s" x="530.8" class="w"/></g>
<g id="t85" transform="translate(0 1021.7)"><text x="557" y="4">Drepane punctata</text><use href="#s" x="399.7" class="r"/><use href="#s" x="425.9" class="w"/><use href="#s" x="452.2" class="w"/><use href="#s" x="478.4" class="w"/><use href="#s" x="504.6" class="w"/><use href="#s" x="530.8" class="w"/></g>
<g id="t86" transform="translate(0 1033.2)"><text x="557" y="4">Ammodytes tobianus</text><use href="#s" x="399.7" class="w"/><use href="#s" x="425.9" class="w"/><use href="#s" x="452.2" class="w"/><use href="#s" x="478.4" class="w"/><use href="#s" x="504.6" class="w"/><use href="#s" x="530.8" class="w"/></g>
<g id="t87" transform="translate(0 1044.7)"><text x="557" y="4">Echiinichthys vipera</text><use href="#s" x="399.7" class="r"/><use href="#s" x="425.9" class="w"/><use href="#s" x="452.2" class="w"/><use href="#s" x="478.4" class="w"/><use href="#s" x="504.6" class="w"/><use href="#s" x="530.8" class="w"/></g>
<g id="t88" transform="translate(0 1056.3)"><text x="557" y="4">Sphyraena barracuda</text><use href="#s" x="399.7" class="r"/><use href="#s" x="425.9" class="w"/><use href="#s" x="452.2" class="w"/><use href="#s" x="478.4" class="w"/><use href="#s" x="504.6" class="w"/><use href="#s" x="530.8" class="w"/></g>
<g id="t89" transform="translate(0 1067.8)"><text x="557" y="4">Scomberomorus tritor</text><use href="#s" x="399.7" class="r"/><use href="#s" x="425.9" class="w"/><use href="#s" x="452.2" class="w"/><use href="#s" x="478.4" class="w"/><use href="#s" x="504.6" class="w"/><use href="#s" x="530.8" class="w"/></g>
<g id="t90" transform="translate(0 1079.4)"><text x="557" y="4">Siganus luridus</text><use href="#s" x="399.7" class="r"/><use href="#s" x="425.9" class="w"/><use href="#s" x="452.2" class="w"/><use href="#s" x="478.4" class="w"/><use href="#s" x="504.6" class="w"/><use href="#s" x="530.8" class="w"/></g>
</g>
<g id="highlights">
<ellipse id="hl-otocephala" class="ov" cx="95.9" cy="165" rx="70.6" ry="33.2" stroke="#cc0f6e" stroke-width="7"/>
<ellipse id="hl-perciformes" class="ov" cx="271.2" cy="1014.7" rx="74" ry="30.9" stroke="#8a1ef2" stroke-width="7.5"/>
</g>
</svg>
